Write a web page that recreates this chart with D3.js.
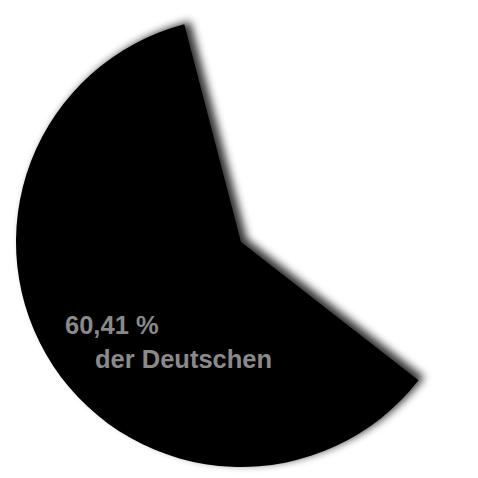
<!DOCTYPE html>
<html>
<head>
<meta charset="utf-8">
<script src="https://cdn.jsdelivr.net/npm/d3@7"></script>
<style>
  html, body { margin: 0; padding: 0; background: #fff; }
</style>
</head>
<body>
<div class="canvas"></div>
<script>
/**
 * Data
 */
const categories = ["der Deutschen", "Rest"]
const values = [60.41, 39.59]
const labelLines = ["60,41 %", "der Deutschen"]

/**
 * Dimension setup
 */
const dims = { height: 478, width: 478, radius: 225 }
const cent = { x: 241, y: 242 }

const svg = d3.select(".canvas")
    .append("svg")
    .attr("width", dims.width)
    .attr("height", dims.height)

// drop shadow (falls to the upper right)
const defs = svg.append("defs")
const filter = defs.append("filter")
    .attr("id", "shadow")
    .attr("x", "-20%").attr("y", "-20%")
    .attr("width", "140%").attr("height", "140%")
filter.append("feGaussianBlur")
    .attr("in", "SourceAlpha")
    .attr("stdDeviation", 4)
    .attr("result", "blur")
filter.append("feOffset")
    .attr("in", "blur")
    .attr("dx", 6).attr("dy", -3)
    .attr("result", "off")
filter.append("feComponentTransfer")
    .attr("in", "off")
    .attr("result", "shade")
    .append("feFuncA").attr("type", "linear").attr("slope", 0.8)
const merge = filter.append("feMerge")
merge.append("feMergeNode").attr("in", "shade")
merge.append("feMergeNode").attr("in", "SourceGraphic")

const graph = svg.append("g")
    .attr("transform", `translate(${cent.x},${cent.y})`)

/**
 * Pie generator
 */
const startDeg = -14.6
const pie = d3.pie()
    .sort(null)
    .value(d => d.value)
    .startAngle(startDeg * Math.PI / 180)
    .endAngle((startDeg + 360) * Math.PI / 180)

const arcPath = d3.arc()
    .outerRadius(dims.radius)
    .innerRadius(0)

// rest first, then the highlighted slice
const data = [
    { name: categories[1], value: values[1] },
    { name: categories[0], value: values[0] }
]

graph.selectAll("path")
    .data(pie(data).filter(d => d.data.name === categories[0]))
    .enter()
    .append("path")
        .attr("d", arcPath)
        .attr("fill", "#000")
        .attr("filter", "url(#shadow)")

/**
 * Label
 */
const label = graph.append("text")
    .attr("font-family", "Liberation Sans, Arial, Helvetica, sans-serif")
    .attr("font-weight", "bold")
    .attr("font-size", 25.5)
    .attr("fill", "#8a8a8a")

label.append("tspan")
    .attr("x", -176).attr("y", 92)
    .text(labelLines[0])
label.append("tspan")
    .attr("x", -146).attr("y", 126)
    .text(labelLines[1])
</script>
</body>
</html>
